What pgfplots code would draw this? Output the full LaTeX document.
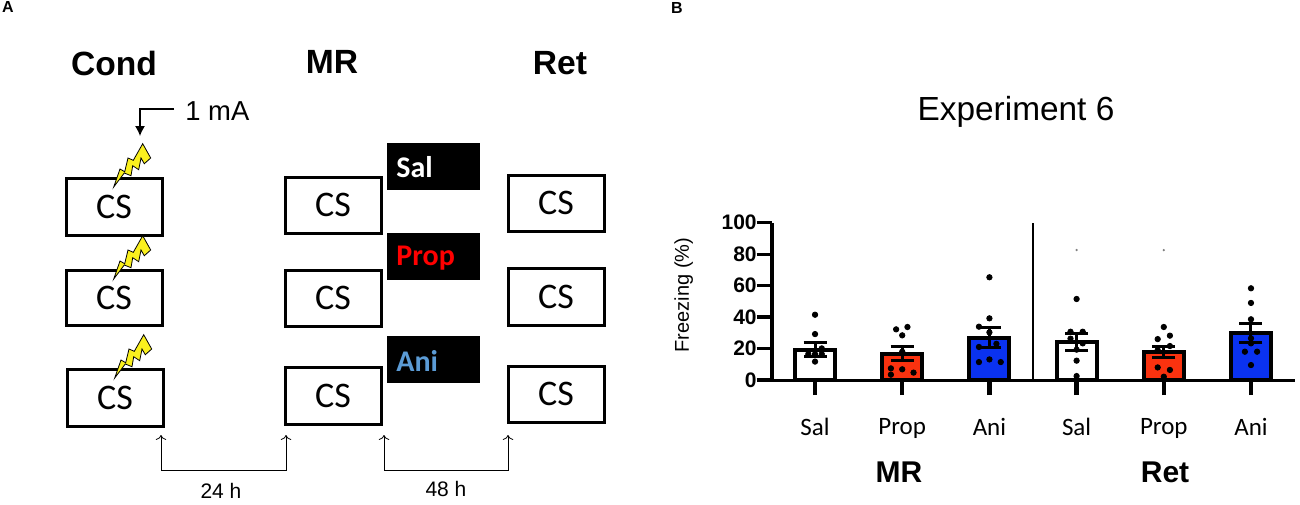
\documentclass[border=0pt]{standalone}
\usepackage{fontspec}
\setmainfont{Liberation Sans}
\newfontfamily\carl{Carlito}
\usepackage{pgfplots}
\usetikzlibrary{arrows.meta}
\pgfplotsset{compat=1.18}
\definecolor{barred}{RGB}{250,50,15}
\definecolor{barblue}{RGB}{10,50,240}
\definecolor{aniblue}{RGB}{91,155,213}
\definecolor{bolt}{RGB}{250,240,30}

\begin{document}
\begin{tikzpicture}
\useasboundingbox (0,0) rectangle (650pt,-252pt);

% panel A, in pixels of the reference
\begin{scope}[x=0.5pt,y=-0.5pt]
\node[font=\fontsize{8}{9}\selectfont\bfseries] at (8,7) {A};
\node[font=\fontsize{8}{9}\selectfont\bfseries] at (677,8) {B};
\foreach \tx/\px/\py in {Cond/114/63,MR/332/62,Ret/560/63}
  \node[font=\fontsize{16.8}{18}\selectfont\bfseries] at (\px,\py) {\tx};

\foreach \bx/\by/\bh in {66/178/57,66/270/55,67/369/57,285/177/56,285/270/56,285/367/57,508/175/56,508/268/57,508/366/56}{
  \draw[line width=1.5pt] (\bx,\by) rectangle ++(96,\bh);
  \node[font=\fontsize{18}{20}\selectfont\carl] at (\bx+48,\by+\bh/2) {CS};
}
\foreach \bx/\by in {66/178,66/270,67/369}
  \draw[shift={(\bx,\by)},fill=bolt,line width=0.4pt] (47.7,9) -- (54,-9) -- (58.7,-6.3) -- (62,-20) -- (67.3,-17.7) -- (76.7,-34.3) -- (84.7,-20) -- (78.3,-14.3) -- (75,-20) -- (72.7,-8.3) -- (66.7,-12.3) -- (65,-2.3) -- (58.3,-5) -- cycle;

\draw[line width=0.6pt,-{Latex[length=5pt,width=5pt]}] (174,109) -- (140,109) -- (140,136);
\node[anchor=west,inner sep=0pt,font=\fontsize{13.7}{15}\selectfont] at (185,111) {1 mA};

\foreach \by/\ty/\tx/\col in {143/167/Sal/white,233/258/Prop/red,336/361/Ani/aniblue}{
  \fill[black] (387,\by) rectangle ++(93,47);
  \node[anchor=west,inner sep=0pt,text=\col,font=\fontsize{15}{17}\selectfont\carl\bfseries] at (396,\ty) {\tx};
}

\draw[line width=0.4pt,->] (161,470) -- (161,435);
\draw[line width=0.4pt,->] (161,470) -- (286,470) -- (286,435);
\draw[line width=0.4pt,->] (384,470) -- (384,435);
\draw[line width=0.4pt,->] (384,470) -- (508,470) -- (508,435);
\node[font=\fontsize{10.5}{12}\selectfont] at (221,491) {24 h};
\node[font=\fontsize{10.5}{12}\selectfont] at (446,489) {48 h};

\node[font=\fontsize{16.7}{18}\selectfont] at (1016,112) {Experiment 6};
\node[font=\fontsize{15}{17}\selectfont\bfseries] at (899,472) {MR};
\node[font=\fontsize{15}{17}\selectfont\bfseries] at (1165,472) {Ret};
\end{scope}

\begin{axis}[
  at={(385.85pt,-190pt)},
  anchor=origin,
  scale only axis,
  width=261.65pt,
  height=78.65pt,
  xmin=0.503,xmax=6.505,
  ymin=0,ymax=100,
  axis lines=left,
  x axis line style={-,line width=1.5pt},
  y axis line style={-,line width=2pt},
  clip=false,
  xtick={1,2,3,4,5,6},
  xticklabels={Sal,Prop,Ani,Sal,Prop,Ani},
  ytick={0,20,40,60,80,100},
  tick align=outside,
  major tick length=7.5pt,
  every x tick/.append style={line width=2.2pt,black},
  every y tick/.append style={line width=1.6pt,black},
  /pgf/number format/assume math mode=true,
  xticklabel style={font=\fontsize{12.5}{14}\selectfont\carl,yshift=-8pt},
  yticklabel style={font=\fontsize{10.5}{12}\selectfont\bfseries,xshift=3.5pt},
  ylabel={Freezing (\%)},
  ylabel style={font=\fontsize{13.6}{15}\selectfont\carl},
  every axis y label/.style={at={(axis description cs:-0.168,0.54)},rotate=90,anchor=center},
  freezebar/.style={ybar,bar width=20pt,bar shift=0pt,draw=black,line width=2pt,
    error bars/.cd,y dir=both,y explicit,error mark options={rotate=90,mark size=5.75pt,line width=1.5pt,black},
    error bar style={line width=1.5pt,black}},
]
\addplot[fill=white,freezebar] coordinates {(1,19.2) +- (0,4.5)};
\addplot[fill=barred,freezebar] coordinates {(2,16.8) +- (0,4.2)};
\addplot[fill=barblue,freezebar] coordinates {(3,27) +- (0,6.5)};
\addplot[fill=white,freezebar] coordinates {(4,24) +- (0,5.4)};
\addplot[fill=barred,freezebar] coordinates {(5,17.5) +- (0,3.5)};
\addplot[fill=barblue,freezebar] coordinates {(6,29.7) +- (0,6)};

% divider
\addplot[black,line width=1.25pt] coordinates {(3.5,0) (3.5,100)};

% individual animals
\addplot[only marks,mark=*,mark size=1.35pt,black] coordinates {
  (1,41.5) (1,29.2) (1.077,20.1) (0.923,16.5) (1,16.5) (1.077,16.5) (1,11.7)
  (1.93,32.2) (2.06,33.7) (2,28.4) (2,18) (1.87,7.4) (2,6.8) (2.13,4.7) (1.87,3.4)
  (3,65.3) (3,39.2) (2.88,33.9) (3,30.3) (3.08,23) (2.88,21) (3,13.1) (2.88,11.4) (3.13,11.4)
  (3.93,30.7) (4.07,30.7) (3.93,26.3) (4.07,23.3) (4,19.3) (4,51.5) (4,12.3) (4,2.5)
  (5,33.7) (4.93,26) (5.07,28.2) (5.07,21.6) (4.93,19) (4.93,8) (5.07,6.4) (5,2.1)
  (6,58.3) (6,49) (6,38.6) (6,26.5) (6,23.3) (5.93,18) (6.07,18) (6,9.5)
};
% the two faint specks above the Ret bars
\addplot[only marks,mark=*,mark size=0.35pt,gray] coordinates {(4,82.6) (5,82.6)};
\end{axis}
\end{tikzpicture}
\end{document}
